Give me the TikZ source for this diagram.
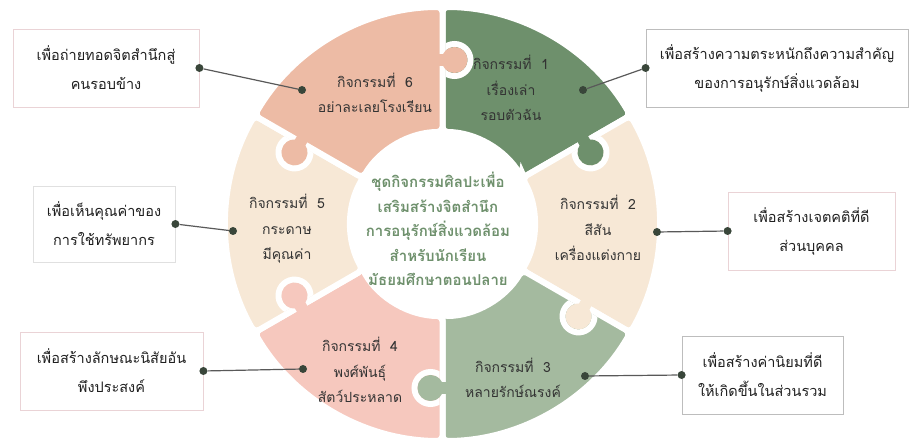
\documentclass[tikz,border=0pt]{standalone}
\usepackage{fontspec}
\newfontfamily\thai[Script=Thai]{Loma}
\usepackage{tikz}
\usetikzlibrary{positioning}
\usepackage{xcolor}
\definecolor{pone}{HTML}{6E906C}
\definecolor{ptwo}{HTML}{F7E8D6}
\definecolor{pthree}{HTML}{A4BA9F}
\definecolor{pfour}{HTML}{F6C8BE}
\definecolor{pfive}{HTML}{F7E8D6}
\definecolor{psix}{HTML}{EDBBA5}
\definecolor{titlegreen}{HTML}{6E906C}
\definecolor{dotgreen}{HTML}{39463A}
\definecolor{boxgray}{HTML}{BDBDBD}
\definecolor{boxpink}{HTML}{EAD3D6}

\begin{document}
\begin{tikzpicture}[x=1pt, y=1pt,
    piece/.style={draw=white, line width=6pt, rounded corners=5pt},
    actlabel/.style={align=center, text=black!80, font=\thai\fontsize{14}{25.5}\selectfont},
    goalbox/.style={draw=boxgray, line width=0.8pt, align=center, minimum height=78pt, text=black!88, font=\thai\fontsize{14.5}{29}\selectfont},
    linkdot/.style={circle, fill=dotgreen, inner sep=0pt, minimum size=8pt},
    linkline/.style={draw=black!65, line width=1.2pt}]
    \useasboundingbox (0,0) rectangle (911,444);

    % ring of puzzle pieces
    \begin{scope}[shift={(442.5,220)}]
        \foreach \from/\to/\col in {30/90/pone, -30/30/ptwo, -90/-30/pthree, -150/-90/pfour, 150/210/pfive, 90/150/psix}
            \filldraw[piece, fill=\col] (\from:92) -- (\from:217) arc[start angle=\from, end angle=\to, radius=217] -- (\to:92) arc[start angle=\to, end angle=\from, radius=92] -- cycle;
        % knobs
        \foreach \at/\side/\col in {90/1/psix, 30/1/pone, -30/1/ptwo, -90/1/pthree, -150/1/pfour, 150/-1/psix}{
            \begin{scope}[rotate=\at, yscale=\side]
                \begin{scope}
                    \clip (130,-3) rectangle (200,-40);
                    \draw[white, line width=6pt] (164,-12) circle[radius=16];
                \end{scope}
                \fill[\col] (164,-12) circle[radius=13];
                \fill[\col] (158,-4) rectangle (170,4);
            \end{scope}
        }
    \end{scope}

    \node[align=center, text=titlegreen, font=\thai\bfseries\fontsize{15}{24.5}\selectfont] (title) at (438,215)
        {ชุดกิจกรรมศิลปะเพื่อ\\เสริมสร้างจิตสำนึก\\การอนุรักษ์สิ่งแวดล้อม\\สำหรับนักเรียน\\มัธยมศึกษาตอนปลาย};

    \node[actlabel] (act1) at (511,356) {กิจกรรมที่~~1\\เรื่องเล่า\\รอบตัวฉัน};
    \node[actlabel] (act2) at (598,216) {กิจกรรมที่~~2\\สีสัน\\เครื่องแต่งกาย};
    \node[actlabel] (act3) at (513,66) {กิจกรรมที่~~3\\หลายรักษ์ณรงค์};
    \node[actlabel] (act4) at (360,74) {กิจกรรมที่~~4\\พงศ์พันธุ์\\สัตว์ประหลาด};
    \node[actlabel] (act5) at (287,215) {กิจกรรมที่~~5\\กระดาษ\\มีคุณค่า};
    \node[actlabel] (act6) at (375,351) {กิจกรรมที่~~6\\อย่าละเลยโรงเรียน};

    % dots on the ring
    \node[linkdot] (dot1) at (583,354) {};
    \node[linkdot] (dot2) at (657,212) {};
    \node[linkdot] (dot3) at (585,68) {};
    \node[linkdot] (dot4) at (303,75) {};
    \node[linkdot] (dot5) at (233,213) {};
    \node[linkdot] (dot6) at (302,354) {};

    % goal boxes
    \node[goalbox, minimum width=262pt] (goal1) at (777,376) {เพื่อสร้างความตระหนักถึงความสำคัญ\\ของการอนุรักษ์สิ่งแวดล้อม};
    \node[goalbox, draw=boxpink, minimum width=167pt] (goal2) at (811.5,213) {เพื่อสร้างเจตคติที่ดี\\ส่วนบุคคล};
    \node[goalbox, minimum width=161pt] (goal3) at (762.5,69) {เพื่อสร้างค่านิยมที่ดี\\ให้เกิดขึ้นในส่วนรวม};
    \node[goalbox, draw=boxpink, minimum width=183pt] (goal4) at (111.5,73) {เพื่อสร้างลักษณะนิสัยอัน\\พึงประสงค์};
    \node[goalbox, draw=black!12, minimum width=142pt, minimum height=76pt] (goal5) at (104,220) {เพื่อเห็นคุณค่าของ\\การใช้ทรัพยากร};
    \node[goalbox, draw=boxpink, minimum width=186pt] (goal6) at (106,376) {เพื่อถ่ายทอดจิตสำนึกสู่\\คนรอบข้าง};

    \node[linkdot] (end1) at (goal1.west) {};
    \node[linkdot] (end2) at (goal2.west) {};
    \node[linkdot] (end3) at (goal3.west) {};
    \node[linkdot] (end4) at (goal4.east) {};
    \node[linkdot] (end5) at (goal5.east) {};
    \node[linkdot] (end6) at (goal6.east) {};

    \foreach \i in {1,...,6}
        \draw[linkline] (dot\i) -- (end\i);
\end{tikzpicture}
\end{document}
